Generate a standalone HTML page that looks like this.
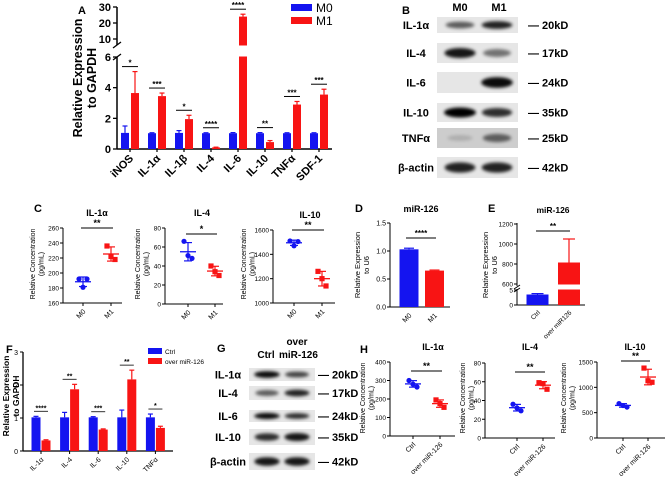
<!DOCTYPE html>
<html><head><meta charset="utf-8">
<style>
html,body{margin:0;padding:0;background:#fff;}
svg{display:block;font-family:"Liberation Sans",Arial,sans-serif;}
</style></head>
<body>
<svg id="fig" width="669" height="477" viewBox="0 0 669 477" xmlns="http://www.w3.org/2000/svg">
<defs>
<filter id="blur" x="-30%" y="-80%" width="160%" height="260%"><feGaussianBlur stdDeviation="1.6"/></filter>
</defs>
</svg>
<script>
// ---------- DATA ----------
const aCategories=['iNOS','IL-1α','IL-1β','IL-4','IL-6','IL-10','TNFα','SDF-1'];
const aM0=[1.05,1.03,1.05,1.03,1.03,1.03,1.03,1.03];
const aM0Err=[0.45,0.03,0.15,0.03,0.04,0.04,0.03,0.03];
const aM1=[3.65,3.45,1.95,0.1,24,0.45,2.9,3.55];
const aM1Err=[1.4,0.2,0.25,0.02,1.5,0.1,0.2,0.35];
const aSig=['*','***','*','****','****','**','***','***'];
const aTicksLow=[0,2,4,6];
const aTicksHigh=[10,20,30];

const c1M0=[192,192,181];
const c1M1=[236,218,222];
const c2M0=[66,48,51];
const c2M1=[40,30,34];
const c3M0=[1510,1505,1470];
const c3M1=[1260,1140,1200];
const cCategories=['M0','M1'];

const dCategories=['M0','M1'];
const dValues=[1.03,0.65];
const dErr=[0.02,0.01];
const dTicks=[0,0.5,1,1.5];

const eCategories=['Ctrl','over miR126'];
const eValues=[3.5,815];
const eErr=[0.3,235];
const eTicksHigh=[600,800,1000,1200];
const eTicksLow=[0,5];

const fCategories=['IL-1α','IL-4','IL-6','IL-10','TNFα'];
const fCtrl=[1.02,1.02,1.02,1.02,1.02];
const fCtrlErr=[0.03,0.15,0.02,0.22,0.1];
const fOver=[0.32,1.87,0.65,2.17,0.7];
const fOverErr=[0.02,0.15,0.02,0.28,0.05];
const fSig=['****','**','***','**','*'];
const fTicks=[0,1,2,3];

const hCategories=['Ctrl','over miR-126'];
const h1Ctrl=[300,265,280];
const h1Over=[195,155,175];
const h2Ctrl=[36,29,32];
const h2Over=[59,52,58];
const h3Ctrl=[680,610,640];
const h3Over=[1380,1100,1130];

// ---------- HELPERS ----------
const NS='http://www.w3.org/2000/svg';
const svg=document.getElementById('fig');
const BLUE='#1414f0', RED='#f81414';
function mk(tag,attrs,parent){const e=document.createElementNS(NS,tag);for(const k in attrs)e.setAttribute(k,attrs[k]);(parent||svg).appendChild(e);return e;}
function txt(x,y,s,attrs,parent){const e=mk('text',Object.assign({x:x,y:y},attrs||{}),parent);e.textContent=s;return e;}
function grp(name){const g=mk('g',{});return g;}
function line(x1,y1,x2,y2,stroke,w,parent){return mk('line',{x1:x1,y1:y1,x2:x2,y2:y2,stroke:stroke||'#000','stroke-width':w||1},parent);}
function mean(a){return a.reduce((s,v)=>s+v,0)/a.length;}
function sd(a){const m=mean(a);return Math.sqrt(a.reduce((s,v)=>s+(v-m)*(v-m),0)/(a.length-1));}
function rotLabel(x,y,s,size,bold,parent){const t=txt(x,y,s,{'font-size':size,'text-anchor':'end','font-weight':bold?'bold':'normal',transform:'rotate(-45 '+x+' '+y+')'},parent);return t;}

// panel letters
[['A',78,14],['B',402,14],['C',34,212],['D',355,212],['E',488,212],['F',6,353],['G',217,352],['H',360,353]].forEach(p=>{
  const t=txt(p[1],p[2],p[0],{'font-size':11,'font-weight':'bold'});
  
  
});

// ---------- PANEL A ----------
(function(){
  const g=grp('panel-a-bar-chart');
  const ax=117, y0=149;
  function yA(v){return v<=6? y0-v*15.33 : 39-(v-10)*1.6;}
  function cx(i){return 130+27*i;}
  line(ax,7,ax,45,'#000',1.5,g); line(ax,57,ax,y0,'#000',1.5,g);
  line(113,48,121,42,'#000',1.3,g); line(113,60,121,54,'#000',1.3,g);
  line(ax,y0,332,y0,'#000',1.5,g);
  aTicksLow.concat(aTicksHigh).forEach(v=>{const y=yA(v);line(ax-4,y,ax,y,'#000',1.3,g);
    const t=txt(ax-6,y+4,String(v),{'font-size':11,'font-weight':'bold','text-anchor':'end'},g);
    });
  const yt=txt(0,0,'',{'font-size':12.5,'font-weight':'bold','text-anchor':'middle',transform:'translate(82,78) rotate(-90)'},g);
  
  mk('tspan',{x:0,y:0},yt).textContent='Relative Expression';
  mk('tspan',{x:0,y:14},yt).textContent='to GAPDH';
  aCategories.forEach((c,i)=>{
    const x=cx(i);
    line(x,y0,x,y0+3,'#000',1.2,g);
    const b=mk('rect',{x:x-9,y:yA(aM0[i]),width:8,height:y0-yA(aM0[i]),fill:BLUE},g);
    
    line(x-5,yA(aM0[i]),x-5,yA(aM0[i]+aM0Err[i]),BLUE,1.2,g);line(x-7.5,yA(aM0[i]+aM0Err[i]),x-2.5,yA(aM0[i]+aM0Err[i]),BLUE,1.2,g);
    const r=mk('rect',{x:x+1,y:yA(aM1[i]),width:8,height:y0-yA(aM1[i]),fill:RED},g);
    
    line(x+5,yA(aM1[i]),x+5,yA(aM1[i]+aM1Err[i]),RED,1.2,g);line(x+2.5,yA(aM1[i]+aM1Err[i]),x+7.5,yA(aM1[i]+aM1Err[i]),RED,1.2,g);
    if(aM1[i]>6||aM0[i]>6){mk('rect',{x:x-10,y:45.5,width:20,height:11,fill:'#fff'},g);}
    const top=Math.min(yA(aM0[i]+aM0Err[i]),yA(aM1[i]+aM1Err[i]))-5;
    line(x-8,top,x+8,top,'#000',1,g);
    const s=txt(x,top-1,aSig[i],{'font-size':8,'font-weight':'bold','text-anchor':'middle'},g);
    
    const l=rotLabel(x+4,y0+10,c,11,true,g);
    
  });
  const lg=mk('g',{},g);
  
  mk('rect',{x:291,y:4,width:21,height:7,fill:BLUE},lg);
  mk('rect',{x:291,y:17,width:21,height:7,fill:RED},lg);
  txt(316,12,'M0',{'font-size':12},lg);
  txt(316,25,'M1',{'font-size':12},lg);
})();

// ---------- BLOTS ----------
function blot(name,box,lanes,bw,rows,labelX,kdX,fs){
  const g=grp(name);
  rows.forEach(r=>{
    const rg=mk('g',{},g);
    
    
    mk('rect',{x:box[0],y:r.y,width:box[1]-box[0],height:r.h,fill:r.bg||'#e6e6e6'},rg);
    r.b.forEach((v,i)=>{ if(v>0) mk('ellipse',{cx:lanes[i],cy:r.y+r.h/2,rx:bw/2*(0.75+0.25*v),ry:r.h*0.22*(0.6+0.6*v),fill:'#000','fill-opacity':v,filter:'url(#blur)'},rg);});
    txt(labelX,r.y+r.h/2+4,r.label,{'font-size':fs,'font-weight':'bold','text-anchor':'middle'},rg);
    txt(kdX,r.y+r.h/2+4,'— '+r.kd,{'font-size':fs,'font-weight':'bold'},rg);
  });
  return g;
}
(function(){
  const g=blot('panel-b-western-blot',[437,518],[460,497],32,[
    {label:'IL-1α',y:17,h:16,kd:'20kD',b:[0.6,0.85]},
    {label:'IL-4',y:43,h:20,kd:'17kD',b:[0.9,0.5]},
    {label:'IL-6',y:72,h:21,kd:'24kD',b:[0,0.95]},
    {label:'IL-10',y:103,h:19,kd:'35kD',b:[1,0.8]},
    {label:'TNFα',y:128,h:20,kd:'25kD',b:[0.15,0.55],bg:'#cdcdcd'},
    {label:'β-actin',y:157,h:21,kd:'42kD',b:[0.85,0.85]}],416,528,11);
  txt(460,11,'M0',{'font-size':11,'font-weight':'bold','text-anchor':'middle'},g);
  txt(499,11,'M1',{'font-size':11,'font-weight':'bold','text-anchor':'middle'},g);
  const g2=blot('panel-g-western-blot',[249,315],[267,297],26,[
    {label:'IL-1α',y:368,h:13,kd:'20kD',b:[0.95,0.7]},
    {label:'IL-4',y:386,h:14,kd:'17kD',b:[0.6,0.85]},
    {label:'IL-6',y:410,h:12,kd:'24kD',b:[0.95,0.8]},
    {label:'IL-10',y:429,h:16,kd:'35kD',b:[0.8,0.9]},
    {label:'β-actin',y:453,h:17,kd:'42kD',b:[0.9,0.9]}],228,318,11);
  txt(297,345,'over',{'font-size':10,'font-weight':'bold','text-anchor':'middle'},g2);
  txt(266,358,'Ctrl',{'font-size':10,'font-weight':'bold','text-anchor':'middle'},g2);
  txt(279,358,'miR-126',{'font-size':10,'font-weight':'bold'},g2);
})();

// ---------- SCATTER ----------
function scatter(o){
  const g=grp(o.name);
  function Y(v){return o.yBot-(v-o.min)/(o.max-o.min)*(o.yBot-o.yTop);}
  line(o.ax,o.yTop,o.ax,o.yBot,'#000',1,g);
  line(o.ax,o.yBot,o.axEnd,o.yBot,'#000',1,g);
  o.ticks.forEach(v=>{const y=Y(v);line(o.ax-3,y,o.ax,y,'#000',1,g);
    const t=txt(o.ax-4,y+2.5,String(v),{'font-size':6.5,'text-anchor':'end'},g);
    });
  const yt=txt(0,0,'',{'font-size':7,'text-anchor':'middle',transform:'translate('+o.ytX+','+o.ytY+') rotate(-90)'},g);
  
  mk('tspan',{x:0,y:0},yt).textContent='Relative Concentration';
  mk('tspan',{x:0,y:8.5},yt).textContent='(pg/mL)';
  const tt=txt(o.titleX,o.titleY,o.title,{'font-size':9,'font-weight':'bold','text-anchor':'middle'},g);
  
  const offs=[-4,4,0];
  [o.a,o.b].forEach((arr,k)=>{
    const x=o.xs[k], col=k?RED:BLUE, m=mean(arr), s=sd(arr);
    line(x,o.yBot,x,o.yBot+3,'#000',1,g);
    line(x-8,Y(m),x+8,Y(m),col,1.3,g);
    line(x,Y(m-s),x,Y(m+s),col,1.2,g);
    line(x-4,Y(m-s),x+4,Y(m-s),col,1.2,g);line(x-4,Y(m+s),x+4,Y(m+s),col,1.2,g);
    arr.forEach((v,j)=>{
      let p;
      if(k===0) p=mk('circle',{cx:x+offs[j],cy:Y(v),r:2.6,fill:col},g);
      else p=mk('rect',{x:x+offs[j]-2.6,y:Y(v)-2.6,width:5.2,height:5.2,fill:col},g);
      
      
    });
    const l=rotLabel(x+3,o.yBot+9,o.cats[k],7,false,g);
    
  });
  line(o.xs[0]-2,o.sigY,o.xs[1]+2,o.sigY,'#333',1.2,g);
  txt((o.xs[0]+o.xs[1])/2,o.sigY-2,o.sig,{'font-size':9,'font-weight':'bold','text-anchor':'middle'},g);
}
scatter({name:'panel-c-il1a-scatter',ax:63,axEnd:122,yTop:228,yBot:303,min:160,max:260,ticks:[160,180,200,220,240,260],xs:[83,111],a:c1M0,b:c1M1,cats:cCategories,title:'IL-1α',titleX:97,titleY:216,ytX:35,ytY:264,sig:'**',sigY:228});
scatter({name:'panel-c-il4-scatter',ax:165,axEnd:223,yTop:228,yBot:304,min:0,max:80,ticks:[0,20,40,60,80],xs:[188,215],a:c2M0,b:c2M1,cats:cCategories,title:'IL-4',titleX:202,titleY:216,ytX:140,ytY:264,sig:'*',sigY:234});
scatter({name:'panel-c-il10-scatter',ax:273,axEnd:335,yTop:230,yBot:303,min:1000,max:1600,ticks:[1000,1200,1400,1600],xs:[294,322],a:c3M0,b:c3M1,cats:cCategories,title:'IL-10',titleX:310,titleY:218,ytX:246,ytY:264,sig:'**',sigY:230});
scatter({name:'panel-h-il1a-scatter',ax:390,axEnd:455,yTop:362,yBot:436,min:0,max:400,ticks:[0,100,200,300,400],xs:[413,440],a:h1Ctrl,b:h1Over,cats:hCategories,title:'IL-1α',titleX:433,titleY:350,ytX:365,ytY:398,sig:'**',sigY:371});
scatter({name:'panel-h-il4-scatter',ax:485,axEnd:555,yTop:363,yBot:438,min:0,max:80,ticks:[0,20,40,60,80],xs:[517,543],a:h2Ctrl,b:h2Over,cats:hCategories,title:'IL-4',titleX:530,titleY:350,ytX:465,ytY:398,sig:'**',sigY:372});
scatter({name:'panel-h-il10-scatter',ax:597,axEnd:665,yTop:362,yBot:438,min:0,max:1500,ticks:[0,500,1000,1500],xs:[623,648],a:h3Ctrl,b:h3Over,cats:hCategories,title:'IL-10',titleX:635,titleY:350,ytX:566,ytY:398,sig:'**',sigY:361});

// ---------- PANEL D ----------
(function(){
  const g=grp('panel-d-bar-chart');
  const ax=390,yb=307,yt=223;
  function Y(v){return yb-v/1.5*(yb-yt);}
  const xs=[409,434.5];
  line(ax,yt,ax,yb,'#000',1,g);line(ax,yb,450,yb,'#000',1,g);
  dTicks.forEach(v=>{line(ax-3,Y(v),ax,Y(v),'#000',1,g);txt(ax-4,Y(v)+2.5,v.toFixed(1),{'font-size':7,'text-anchor':'end'},g);});
  dCategories.forEach((c,i)=>{
    const col=i?RED:BLUE;
    const b=mk('rect',{x:xs[i]-9.5,y:Y(dValues[i]),width:19,height:yb-Y(dValues[i]),fill:col},g);
    
    line(xs[i],Y(dValues[i]),xs[i],Y(dValues[i]+dErr[i]),col,1.2,g);
    line(xs[i]-5,Y(dValues[i]+dErr[i]),xs[i]+5,Y(dValues[i]+dErr[i]),col,1.2,g);
    rotLabel(xs[i]+3,yb+9,c,7,false,g);
  });
  line(406,238,436,238,'#333',1.2,g);
  txt(421,236,'****',{'font-size':8,'font-weight':'bold','text-anchor':'middle'},g);
  txt(421,212,'miR-126',{'font-size':9,'font-weight':'bold','text-anchor':'middle'},g);
  const t=txt(0,0,'',{'font-size':7.5,'text-anchor':'middle',transform:'translate(360,265) rotate(-90)'},g);
  mk('tspan',{x:0,y:0},t).textContent='Relative Expression';
  mk('tspan',{x:0,y:9},t).textContent='to U6';
})();

// ---------- PANEL E ----------
(function(){
  const g=grp('panel-e-bar-chart');
  const ax=517;
  function Y(v){return v<=5? 305-v*3 : 284-(v-600)/200*20;}
  const xs=[537.5,569];
  line(ax,223,ax,286,'#000',1,g);line(ax,289,ax,305,'#000',1,g);
  line(514,289,520,285,'#000',1,g);line(514,292,520,288,'#000',1,g);
  line(ax,305,585,305,'#000',1,g);
  eTicksHigh.concat(eTicksLow).forEach(v=>{line(ax-3,Y(v),ax,Y(v),'#000',1,g);txt(ax-4,Y(v)+2.5,String(v),{'font-size':6.5,'text-anchor':'end'},g);});
  eCategories.forEach((c,i)=>{
    const col=i?RED:BLUE;
    const b=mk('rect',{x:xs[i]-11,y:Y(eValues[i]),width:22,height:305-Y(eValues[i]),fill:col},g);
    
    line(xs[i],Y(eValues[i]),xs[i],Y(eValues[i]+eErr[i]),col,1.2,g);
    line(xs[i]-6,Y(eValues[i]+eErr[i]),xs[i]+6,Y(eValues[i]+eErr[i]),col,1.2,g);
    if(eValues[i]>5) mk('rect',{x:xs[i]-12,y:284.5,width:24,height:5,fill:'#fff'},g);
    rotLabel(xs[i]+3,313,c,6.5,false,g);
  });
  line(536,231,570,231,'#333',1.2,g);
  txt(553,229,'**',{'font-size':8,'font-weight':'bold','text-anchor':'middle'},g);
  txt(553,213,'miR-126',{'font-size':8.5,'font-weight':'bold','text-anchor':'middle'},g);
  const t=txt(0,0,'',{'font-size':7.5,'text-anchor':'middle',transform:'translate(488,265) rotate(-90)'},g);
  mk('tspan',{x:0,y:0},t).textContent='Relative Expression';
  mk('tspan',{x:0,y:9},t).textContent='to U6';
})();

// ---------- PANEL F ----------
(function(){
  const g=grp('panel-f-bar-chart');
  const ax=23,yb=451;
  function Y(v){return yb-v*33;}
  function cx(i){return 41+28.6*i;}
  line(ax,Y(3),ax,yb,'#000',1.3,g);line(ax,yb,173,yb,'#000',1.3,g);
  fTicks.forEach(v=>{line(ax-3,Y(v),ax,Y(v),'#000',1,g);txt(ax-5,Y(v)+3,String(v),{'font-size':7,'text-anchor':'end'},g);});
  fCategories.forEach((c,i)=>{
    const x=cx(i);
    line(x,yb,x,yb+3,'#000',1,g);
    const b=mk('rect',{x:x-9.5,y:Y(fCtrl[i]),width:9,height:yb-Y(fCtrl[i]),fill:BLUE},g);
    
    line(x-5,Y(fCtrl[i]),x-5,Y(fCtrl[i]+fCtrlErr[i]),BLUE,1.2,g);line(x-7.5,Y(fCtrl[i]+fCtrlErr[i]),x-2.5,Y(fCtrl[i]+fCtrlErr[i]),BLUE,1.2,g);
    const r=mk('rect',{x:x+0.5,y:Y(fOver[i]),width:9,height:yb-Y(fOver[i]),fill:RED},g);
    
    line(x+5,Y(fOver[i]),x+5,Y(fOver[i]+fOverErr[i]),RED,1.2,g);line(x+2.5,Y(fOver[i]+fOverErr[i]),x+7.5,Y(fOver[i]+fOverErr[i]),RED,1.2,g);
    const top=Math.min(Y(fCtrl[i]+fCtrlErr[i]),Y(fOver[i]+fOverErr[i]))-5;
    line(x-7,top,x+7,top,'#333',1,g);
    txt(x,top-1,fSig[i],{'font-size':7,'font-weight':'bold','text-anchor':'middle'},g);
    rotLabel(x+3,yb+9,c,7,false,g);
  });
  const t=txt(0,0,'',{'font-size':8.5,'font-weight':'bold','text-anchor':'middle',transform:'translate(9,396) rotate(-90)'},g);
  mk('tspan',{x:0,y:0},t).textContent='Relative Expression';
  mk('tspan',{x:0,y:10},t).textContent='to GAPDH';
  const lg=mk('g',{},g);
  
  mk('rect',{x:148,y:348,width:14,height:6,fill:BLUE},lg);
  mk('rect',{x:148,y:358,width:14,height:6,fill:RED},lg);
  txt(165,354,'Ctrl',{'font-size':6.5},lg);
  txt(165,364,'over miR-126',{'font-size':6.5},lg);
})();
</script>
</body></html>
